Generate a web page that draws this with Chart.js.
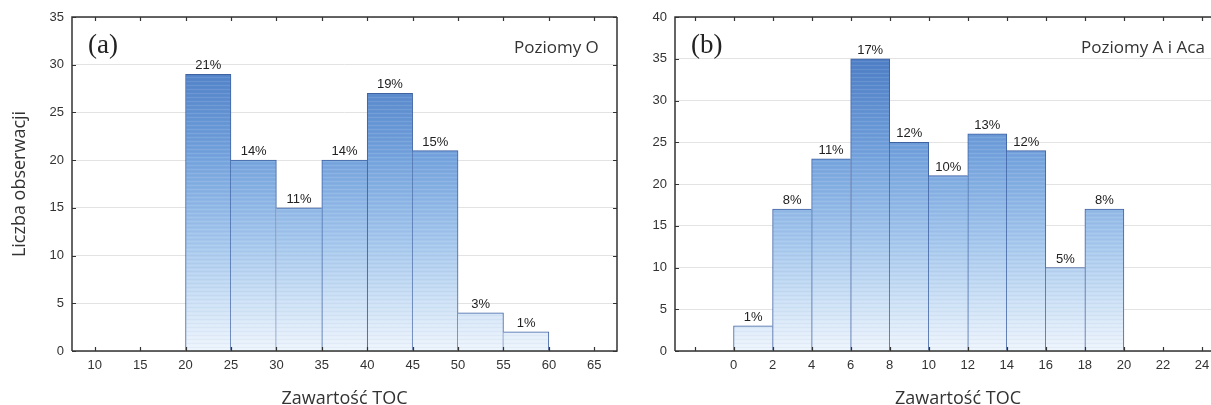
<!DOCTYPE html>
<html>
<head>
<meta charset="utf-8">
<script src="https://cdn.jsdelivr.net/npm/chart.js@4/dist/chart.umd.min.js"></script>
<style>
  html, body { margin: 0; padding: 0; background: #fff; overflow: hidden; width: 1211px; height: 405px; }
  #wrap { position: relative; width: 1211px; height: 405px; overflow: hidden; }
  .box { position: absolute; top: 0; height: 405px; }
  #boxA { left: 0; width: 640px; }
  #boxB { left: 640px; width: 624px; }
  canvas { display: block; }
</style>
</head>
<body>
<div id="wrap">
  <div class="box" id="boxA"><canvas id="cA" width="640" height="405"></canvas></div>
  <div class="box" id="boxB"><canvas id="cB" width="624" height="405"></canvas></div>
</div>
<script>
// Panel (a): O horizons – bin edges, counts and percentage labels
const binStartA = [20, 25, 30, 35, 40, 45, 50, 55];
const binWidthA = 5;
const countsA = [29, 20, 15, 20, 27, 21, 4, 2];
const pctLabelsA = ['21%', '14%', '11%', '14%', '19%', '15%', '3%', '1%'];
const xTicksA = [10, 15, 20, 25, 30, 35, 40, 45, 50, 55, 60, 65];
const yTicksA = [0, 5, 10, 15, 20, 25, 30, 35];

// Panel (b): A and AC horizons
const binStartB = [0, 2, 4, 6, 8, 10, 12, 14, 16, 18];
const binWidthB = 2;
const countsB = [3, 17, 23, 35, 25, 21, 26, 24, 10, 17];
const pctLabelsB = ['1%', '8%', '11%', '17%', '12%', '10%', '13%', '12%', '5%', '8%'];
const xTicksB = [-2, 0, 2, 4, 6, 8, 10, 12, 14, 16, 18, 20, 22, 24];
const xTickTextB = ['', '0', '2', '4', '6', '8', '10', '12', '14', '16', '18', '20', '22', '24'];
const yTicksB = [0, 5, 10, 15, 20, 25, 30, 35, 40];

const TICK_FONT = { family: "'Liberation Sans', Arial, sans-serif", size: 13 };
const TITLE_FAMILY = "'Open Sans', sans-serif";
const EDGE = '#3f62a3';

// Vertical blue gradient with faint horizontal banding, anchored to the plot area
function barFill(chart) {
  const area = chart.chartArea;
  if (!area) return '#7aa6dc';
  if (chart.$fillPattern && chart.$fillTop === area.top) return chart.$fillPattern;
  const h = chart.height;
  const off = document.createElement('canvas');
  off.width = 4; off.height = h;
  const c = off.getContext('2d');
  const g = c.createLinearGradient(0, area.top, 0, area.bottom);
  g.addColorStop(0.00, '#4470b9');
  g.addColorStop(0.15, '#5282c8');
  g.addColorStop(0.40, '#72a1dc');
  g.addColorStop(0.65, '#a0c4ec');
  g.addColorStop(0.85, '#cde1f6');
  g.addColorStop(1.00, '#eef5fd');
  c.fillStyle = g;
  c.fillRect(0, 0, 4, h);
  for (let y = Math.floor(area.top); y < area.bottom; y += 4) {
    c.fillStyle = 'rgba(255,255,255,0.10)';
    c.fillRect(0, y, 4, 1);
    c.fillStyle = 'rgba(40,70,130,0.04)';
    c.fillRect(0, y + 2, 4, 1);
  }
  chart.$fillPattern = chart.ctx.createPattern(off, 'repeat-x');
  chart.$fillTop = area.top;
  return chart.$fillPattern;
}

// Frame, inward tick marks, bar value labels and panel captions
const decor = {
  id: 'decor',
  afterDatasetsDraw(chart, args, opts) {
    const { ctx, chartArea: a } = chart;
    const xs = chart.scales.x, ys = chart.scales.y;
    ctx.save();
    // percentage labels above bars
    const meta = chart.getDatasetMeta(0);
    ctx.fillStyle = '#222';
    ctx.font = "13px 'Liberation Sans', Arial, sans-serif";
    ctx.textAlign = 'center';
    ctx.textBaseline = 'bottom';
    meta.data.forEach((bar, i) => {
      ctx.fillText(opts.labels[i], bar.x, bar.y - 2);
    });
    // frame: four sides
    ctx.strokeStyle = '#333';
    ctx.lineWidth = 1.5;
    ctx.beginPath();
    ctx.moveTo(a.left, a.bottom); ctx.lineTo(a.left, a.top); ctx.lineTo(a.right, a.top);
    ctx.moveTo(a.left, a.bottom); ctx.lineTo(a.right, a.bottom); ctx.lineTo(a.right, a.top);
    ctx.stroke();
    // inward ticks
    ctx.lineWidth = 1.2;
    const L = 4;
    ctx.beginPath();
    opts.xTicks.forEach(v => {
      const px = Math.round(xs.getPixelForValue(v)) + 0.5;
      ctx.moveTo(px, a.bottom); ctx.lineTo(px, a.bottom - L);
      ctx.moveTo(px, a.top); ctx.lineTo(px, a.top + L);
    });
    opts.yTicks.forEach(v => {
      const py = Math.round(ys.getPixelForValue(v)) + 0.5;
      ctx.moveTo(a.left, py); ctx.lineTo(a.left + L, py);
      ctx.moveTo(a.right, py); ctx.lineTo(a.right - L, py);
    });
    ctx.stroke();
    // panel letter
    ctx.fillStyle = '#222';
    ctx.font = "27px 'Liberation Serif', 'Times New Roman', serif";
    ctx.textAlign = 'left';
    ctx.textBaseline = 'alphabetic';
    ctx.fillText(opts.letter, a.left + 16, a.top + 36);
    // horizon caption
    ctx.font = "17px " + TITLE_FAMILY;
    ctx.fillStyle = '#333';
    ctx.textAlign = 'left';
    ctx.fillText(opts.caption, a.left + opts.captionOffset, a.top + 36);
    ctx.restore();
  }
};

// Bars share edges: draw a side only where this bar is the taller neighbour
function edgeWidths(counts) {
  return counts.map((v, i) => {
    const prev = i > 0 ? counts[i - 1] : -1;
    const next = i < counts.length - 1 ? counts[i + 1] : -1;
    return { top: 1, bottom: 0, left: prev < v ? 1 : 0, right: next <= v ? 1 : 0 };
  });
}

function makeHist(canvasId, cfg) {
  const points = cfg.starts.map((s, i) => ({ x: s + cfg.width / 2, y: cfg.counts[i] }));
  return new Chart(document.getElementById(canvasId), {
    type: 'bar',
    data: {
      datasets: [{
        data: points,
        backgroundColor: ctx => barFill(ctx.chart),
        borderColor: EDGE,
        borderWidth: edgeWidths(cfg.counts),
        borderSkipped: false,
        barPercentage: 1,
        categoryPercentage: 1
      }]
    },
    options: {
      responsive: false,
      animation: false,
      devicePixelRatio: 1,
      layout: { padding: { top: 17, right: cfg.padRight, bottom: 0, left: 0 } },
      plugins: {
        legend: { display: false },
        tooltip: { enabled: false },
        decor: {
          labels: cfg.pctLabels, xTicks: cfg.xTicks, yTicks: cfg.yTicks,
          letter: cfg.letter, caption: cfg.caption, captionOffset: cfg.captionOffset
        }
      },
      scales: {
        x: {
          type: 'linear',
          offset: false,
          min: cfg.xMin, max: cfg.xMax,
          afterFit: s => { s.height = 54; },
          afterBuildTicks: s => { s.ticks = cfg.xTicks.map(v => ({ value: v })); },
          ticks: {
            font: TICK_FONT, color: '#333', padding: 7, maxRotation: 0, autoSkip: false,
            callback: (v, i) => cfg.xTickText ? cfg.xTickText[i] : String(v)
          },
          grid: { display: false, drawTicks: false, offset: false },
          border: { display: false },
          title: {
            display: true, text: 'Zawartość TOC', color: '#333',
            font: { family: TITLE_FAMILY, size: 18 }, padding: { top: 0, bottom: -5 }
          }
        },
        y: {
          min: 0, max: cfg.yMax,
          afterFit: s => { s.width = cfg.yWidth; },
          afterBuildTicks: s => { s.ticks = cfg.yTicks.map(v => ({ value: v })); },
          ticks: { font: TICK_FONT, color: '#333', padding: 8 },
          grid: { color: '#e3e3e3', lineWidth: 1, drawTicks: false },
          border: { display: false },
          title: {
            display: cfg.yTitle, text: 'Liczba obserwacji', color: '#333',
            font: { family: TITLE_FAMILY, size: 18 }, padding: { top: 9, bottom: 0 }
          }
        }
      }
    },
    plugins: [decor]
  });
}

makeHist('cA', {
  starts: binStartA, width: binWidthA, counts: countsA, pctLabels: pctLabelsA,
  xTicks: xTicksA, yTicks: yTicksA, xMin: 7.5, xMax: 67.5, yMax: 35,
  yWidth: 72, padRight: 23, yTitle: true,
  letter: '(a)', caption: 'Poziomy O', captionOffset: 442
});

makeHist('cB', {
  starts: binStartB, width: binWidthB, counts: countsB, pctLabels: pctLabelsB,
  xTicks: xTicksB, xTickText: xTickTextB, yTicks: yTicksB, xMin: -3, xMax: 26, yMax: 40,
  yWidth: 35, padRight: 23, yTitle: false,
  letter: '(b)', caption: 'Poziomy A i Aca', captionOffset: 406
});
</script>
</body>
</html>
